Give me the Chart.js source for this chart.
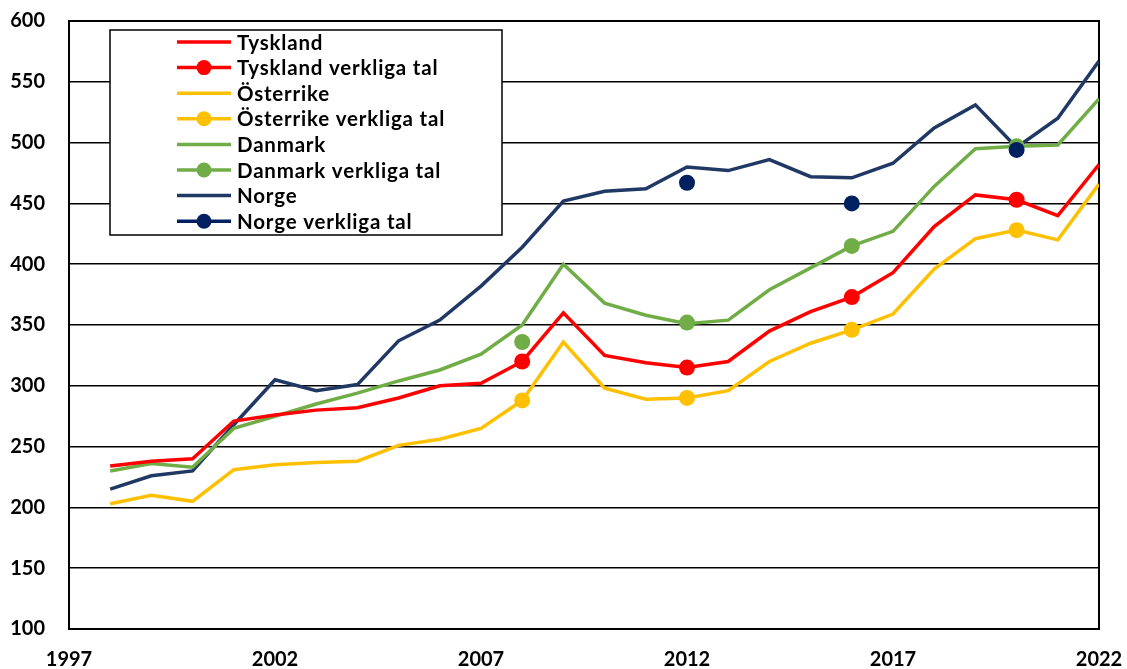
<!DOCTYPE html>
<html>
<head>
<meta charset="utf-8">
<script src="https://cdn.jsdelivr.net/npm/chart.js@4"></script>
<style>
  html, body { margin: 0; padding: 0; background: #fff; }
  #wrap { width: 1127px; height: 669px; }
</style>
</head>
<body>
<div id="wrap"><canvas id="chart" width="1127" height="669"></canvas></div>
<script>
// Years for the modelled series, 1998-2022
const years = [1998, 1999, 2000, 2001, 2002, 2003, 2004, 2005, 2006, 2007, 2008, 2009, 2010,
               2011, 2012, 2013, 2014, 2015, 2016, 2017, 2018, 2019, 2020, 2021, 2022];

const tyskland  = [234, 238, 240, 271, 276, 280, 282, 290, 300, 302, 320, 360, 325,
                   319, 315, 320, 345, 361, 373, 393, 431, 457, 453, 440, 482];
const osterrike = [203, 210, 205, 231, 235, 237, 238, 251, 256, 265, 288, 336, 298,
                   289, 290, 296, 320, 335, 346, 359, 396, 421, 428, 420, 466];
const danmark   = [230, 236, 233, 265, 275, 285, 294, 304, 313, 326, 350, 400, 368,
                   358, 351, 354, 379, 397, 415, 427, 464, 495, 497, 498, 536];
const norge     = [215, 226, 230, 268, 305, 296, 301, 337, 354, 382, 414, 452, 460,
                   462, 480, 477, 486, 472, 471, 483, 512, 531, 496, 520, 567];

// Actual (observed) figures
const actualYears      = [2008, 2012, 2016, 2020];
const tysklandActual   = [320, 315, 373, 453];
const osterrikeActual  = [288, 290, 346, 428];
const danmarkActual    = [336, 352, 415, 497];
const norgeActualYears = [2012, 2016, 2020];
const norgeActual      = [467, 450, 494];

const yTicks = [100, 150, 200, 250, 300, 350, 400, 450, 500, 550, 600];
const xTicks = [1997, 2002, 2007, 2012, 2017, 2022];

const FONT = 'Lato, "Open Sans", sans-serif';

function points(xs, ys) {
    return xs.map((x, i) => ({ x: x, y: ys[i] }));
}

function lineSet(label, values, color) {
    return {
        label: label,
        data: points(years, values),
        borderColor: color,
        backgroundColor: color,
        borderWidth: 3.5,
        pointRadius: 0,
        tension: 0,
        order: 5,
        kind: 'line'
    };
}

function markerSet(label, xs, values, color, order) {
    return {
        label: label,
        data: points(xs, values),
        borderColor: color,
        backgroundColor: color,
        showLine: false,
        pointRadius: 8,
        pointBorderWidth: 0,
        order: order,
        kind: 'marker'
    };
}

const datasets = [
    lineSet('Tyskland', tyskland, '#FF0000'),
    markerSet('Tyskland verkliga tal', actualYears, tysklandActual, '#FF0000', 3),
    lineSet('Österrike', osterrike, '#FFC000'),
    markerSet('Österrike verkliga tal', actualYears, osterrikeActual, '#FFC000', 3),
    lineSet('Danmark', danmark, '#70AD47'),
    markerSet('Danmark verkliga tal', actualYears, danmarkActual, '#70AD47', 2),
    lineSet('Norge', norge, '#203864'),
    markerSet('Norge verkliga tal', norgeActualYears, norgeActual, '#002060', 1)
];

// Legend drawn as a boxed list inside the plot area
const boxLegend = {
    id: 'boxLegend',
    afterDraw(chart) {
        const ctx = chart.ctx;
        const x0 = 110, y0 = 30, w = 392, h = 205;
        ctx.save();
        ctx.fillStyle = '#fff';
        ctx.fillRect(x0, y0, w, h);
        ctx.strokeStyle = '#000';
        ctx.lineWidth = 1.5;
        ctx.strokeRect(x0, y0, w, h);
        ctx.font = 'bold 20.5px ' + FONT;
        ctx.letterSpacing = '0.8px';
        ctx.textBaseline = 'middle';
        chart.data.datasets.forEach((ds, i) => {
            const y = y0 + 12 + i * 25.6;
            ctx.strokeStyle = ds.borderColor;
            ctx.lineWidth = 3.5;
            ctx.beginPath();
            ctx.moveTo(177, y);
            ctx.lineTo(231, y);
            ctx.stroke();
            if (ds.kind === 'marker') {
                ctx.fillStyle = ds.backgroundColor;
                ctx.beginPath();
                ctx.arc(204, y, 7.5, 0, Math.PI * 2);
                ctx.fill();
            }
            ctx.fillStyle = '#000';
            ctx.fillText(ds.label, 237, y + 1);
        });
        ctx.restore();
    }
};

// Frame around the plot area
const frame = {
    id: 'frame',
    beforeDatasetsDraw(chart) {
        const a = chart.chartArea, ctx = chart.ctx;
        ctx.save();
        ctx.strokeStyle = '#000';
        ctx.lineWidth = 2;
        ctx.strokeRect(a.left, a.top, a.right - a.left, a.bottom - a.top);
        ctx.restore();
    }
};

new Chart(document.getElementById('chart'), {
    type: 'line',
    data: { datasets: datasets },
    options: {
        responsive: false,
        animation: false,
        layout: { padding: { top: 21, right: 28, left: 0, bottom: 0 } },
        plugins: {
            legend: { display: false },
            tooltip: { enabled: false }
        },
        scales: {
            x: {
                type: 'linear',
                min: xTicks[0],
                max: xTicks[xTicks.length - 1],
                afterBuildTicks(scale) {
                    scale.ticks = xTicks.map(v => ({ value: v }));
                },
                afterFit(scale) {
                    // fixed band under the plot; no extra room for edge labels
                    scale.height = 40;
                    scale.paddingLeft = 0;
                    scale.paddingRight = 0;
                },
                grid: { display: false, drawTicks: false },
                border: { display: false },
                ticks: {
                    color: '#000',
                    font: { family: FONT, size: 20, weight: 'bold' },
                    padding: 19,
                    maxRotation: 0,
                    callback: v => String(v)
                }
            },
            y: {
                min: yTicks[0],
                max: yTicks[yTicks.length - 1],
                afterBuildTicks(scale) {
                    scale.ticks = yTicks.map(v => ({ value: v }));
                },
                afterFit(scale) {
                    scale.width = 69;
                    scale.paddingTop = 0;
                    scale.paddingBottom = 0;
                },
                grid: { color: '#000', lineWidth: 1.5, drawTicks: false },
                border: { display: false },
                ticks: {
                    color: '#000',
                    font: { family: FONT, size: 20, weight: 'bold' },
                    padding: 24,
                    callback: v => String(v)
                }
            }
        }
    },
    plugins: [frame, boxLegend]
});
</script>
</body>
</html>
